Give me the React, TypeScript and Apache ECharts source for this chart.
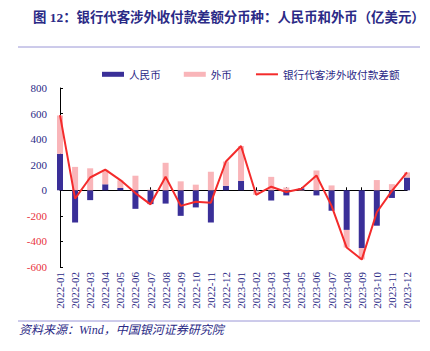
import React, { useEffect, useRef } from "react";
import * as echarts from "echarts";

const categories = [
  "2022-01", "2022-02", "2022-03", "2022-04", "2022-05", "2022-06",
  "2022-07", "2022-08", "2022-09", "2022-10", "2022-11", "2022-12",
  "2023-01", "2023-02", "2023-03", "2023-04", "2023-05", "2023-06",
  "2023-07", "2023-08", "2023-09", "2023-10", "2023-11", "2023-12",
];
const rmb = [285, -252, -77, 47, 18, -145, -108, -104, -200, -134, -252, 35, 74, -3, -80, -40, 15, -40, -160, -310, -452, -277, -60, 100];
const fx = [300, 183, 172, 113, 60, 114, 5, 215, 70, 44, 145, 190, 272, -33, 105, 22, -3, 155, 38, -137, -88, 80, 48, 40];
const total = [588, -65, 100, 162, 80, -22, -110, 106, -122, -90, -97, 225, 346, -35, 28, -13, 12, 116, -122, -448, -542, -172, -5, 140];
const yTicks = [-600, 800, 200];

const NAVY = "#2b2a86";
const BLUE = "#3a2f98";
const PINK = "#f9b5b9";
const RED = "#f42b2b";
const SERIF = "Liberation Serif";

export default function App() {
  const ref = useRef<HTMLDivElement>(null);
  useEffect(() => {
    if (!ref.current) return;
    const chart = echarts.init(ref.current, null, { renderer: "svg" });
    chart.setOption({
      animation: false,
      backgroundColor: "#ffffff",
      graphic: [
        {
          type: "text",
          left: 33,
          top: 11,
          style: {
            text: "图 12：银行代客涉外收付款差额分币种：人民币和外币（亿美元）",
            fill: NAVY,
            font: "bold 13.4px 'Liberation Serif', 'Noto Sans CJK SC', serif",
          },
        },
        { type: "line", shape: { x1: 18, y1: 47, x2: 420, y2: 47 }, style: { stroke: "#9a96d6", lineWidth: 1 } },
        { type: "line", shape: { x1: 18, y1: 321, x2: 420, y2: 321 }, style: { stroke: "#9a96d6", lineWidth: 1 } },
        {
          type: "text",
          left: 19,
          top: 324,
          style: {
            text: "资料来源：Wind，中国银河证券研究院",
            fill: NAVY,
            font: "italic 12px 'Liberation Serif', 'Noto Sans CJK SC', serif",
          },
        },
      ],
      legend: {
        left: 102,
        top: 69,
        padding: 0,
        itemWidth: 22,
        itemHeight: 5,
        itemGap: 23,
        textStyle: { color: NAVY, fontSize: 10.6, fontFamily: "Noto Sans CJK SC" },
        data: [
          { name: "人民币", icon: "rect" },
          { name: "外币", icon: "rect" },
          { name: "银行代客涉外收付款差额", itemStyle: { opacity: 0 } },
        ],
      },
      grid: { left: 60, right: 23, top: 88, bottom: 84, containLabel: false },
      xAxis: [
        {
          type: "category",
          data: categories,
          boundaryGap: false,
          position: "bottom",
          axisLine: { show: false, onZero: false },
          axisTick: { show: false },
          axisLabel: { rotate: 90, fontSize: 11, color: NAVY, margin: 5, interval: 0, fontFamily: SERIF },
        },
        {
          type: "category",
          data: categories,
          boundaryGap: false,
          position: "bottom",
          axisLine: { show: true, onZero: true, lineStyle: { color: "#000", width: 1 } },
          axisTick: { show: true, inside: true, length: 3, interval: 0, lineStyle: { color: "#000" } },
          axisLabel: { show: false },
        },
      ],
      yAxis: {
        type: "value",
        min: yTicks[0],
        max: yTicks[1],
        interval: yTicks[2],
        splitLine: { show: false },
        axisLine: { show: true, lineStyle: { color: "#000", width: 1 } },
        axisTick: { show: true, inside: true, length: 3, lineStyle: { color: "#000" } },
        axisLabel: {
          fontSize: 11,
          margin: 13,
          fontFamily: SERIF,
          color: (v: any) => (Number(v) < 0 ? "#e8323c" : NAVY),
        },
      },
      series: [
        {
          name: "人民币",
          type: "bar",
          stack: "c",
          data: rmb,
          barWidth: 6,
          itemStyle: { color: BLUE },
        },
        {
          name: "外币",
          type: "bar",
          stack: "c",
          data: fx,
          barWidth: 6,
          itemStyle: { color: PINK },
        },
        {
          name: "银行代客涉外收付款差额",
          type: "line",
          data: total,
          symbol: "none",
          lineStyle: { color: RED, width: 2 },
          itemStyle: { color: RED },
          z: 5,
        },
      ],
    });
    return () => chart.dispose();
  }, []);
  return <div ref={ref} style={{ width: 430, height: 351, position: "absolute", left: 0, top: 0 }} />;
}
